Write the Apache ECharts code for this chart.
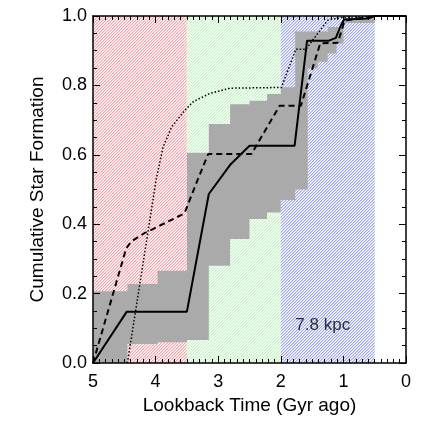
<!DOCTYPE html>
<html>
<head>
<meta charset="utf-8">
<script src="https://cdn.jsdelivr.net/npm/echarts@6/dist/echarts.min.js"></script>
<style>
html,body{margin:0;padding:0;background:#fff;}
#c{width:422px;height:422px;}
</style>
</head>
<body>
<div id="c"></div>
<script>
// ---- data ----
const periodStart = [5, 3.5, 2.0];
const periodEnd = [3.5, 2.0, 0.5];
const periodColor = [[246, 165, 172], [195, 242, 195], [160, 168, 238]];

const bandEdges = [5, 4.45, 3.97, 3.5, 3.15, 2.81, 2.5, 2.22, 2.0, 1.77, 1.57, 1.41, 1.25, 1.11, 1.0, 0.5];
const bandLo = [0, 0.055, 0.06, 0.066, 0.28, 0.357, 0.415, 0.434, 0.47, 0.50, 0.849, 0.868, 0.892, 0.921, 0.98];
const bandHi = [0.207, 0.228, 0.266, 0.606, 0.689, 0.746, 0.756, 0.775, 0.795, 0.955, 0.955, 0.955, 0.968, 0.968, 0.995];

const solidX = [5, 4.46, 3.5, 3.15, 2.8, 2.5, 1.78, 1.58, 1.23, 1.12, 1.05, 0.99, 0.6, 0.5, 0];
const solidY = [0, 0.148, 0.148, 0.487, 0.573, 0.626, 0.626, 0.929, 0.929, 0.937, 0.969, 0.99, 0.993, 1.0, 1.0];

const dashedX = [5, 4.47, 4.39, 4.18, 4.02, 3.54, 3.33, 3.16, 2.47, 2.02, 1.68, 1.37, 1.09, 0.98, 0.5, 0];
const dashedY = [0, 0.33, 0.35, 0.374, 0.388, 0.431, 0.527, 0.602, 0.602, 0.741, 0.741, 0.921, 0.923, 0.987, 1.0, 1.0];

const dottedX = [4.45, 3.99, 3.88, 3.74, 3.54, 3.4, 3.13, 2.81, 1.99, 1.76, 1.6, 1.25, 1.03, 0.5, 0];
const dottedY = [0, 0.53, 0.623, 0.681, 0.727, 0.753, 0.777, 0.792, 0.794, 0.904, 0.904, 0.988, 0.996, 1.0, 1.0];

const labelText = '7.8 kpc';
const labelPos = [1.33, 0.11];

const yTickDigits = 1;

// ---- helpers ----
function hatch(rgb, period) {
  const c = document.createElement('canvas');
  c.width = period; c.height = period;
  const ctx = c.getContext('2d');
  ctx.fillStyle = '#ffffff';
  ctx.fillRect(0, 0, period, period);
  const half = rgb.map(v => Math.round((v + 255) / 2));
  for (let i = 0; i < period; i++) {
    ctx.fillStyle = 'rgb(' + half.join(',') + ')';
    ctx.fillRect((i + 1) % period, period - 1 - i, 1, 1);
    ctx.fillStyle = 'rgb(' + rgb.join(',') + ')';
    ctx.fillRect(i, period - 1 - i, 1, 1);
  }
  return c;
}
const patterns = periodColor.map(c => ({ image: hatch(c, 3), repeat: 'repeat' }));

const zip = (xs, ys) => xs.map((x, i) => [x, ys[i]]);

const FONT = '"Liberation Sans", Arial, Helvetica, sans-serif';

const chart = echarts.init(document.getElementById('c'), null, { renderer: 'canvas', width: 422, height: 422 });

const axisCommonX = {
  type: 'value', min: 0, max: 5, interval: 1, inverse: true, z: 10,
  axisLine: { show: true, onZero: false, lineStyle: { color: '#000', width: 1.5 } },
  axisTick: { show: true, inside: true, length: 7, lineStyle: { color: '#000', width: 1 } },
  minorTick: { show: true, splitNumber: 10, length: 4, lineStyle: { color: '#000', width: 1 } },
  splitLine: { show: false }
};
const axisCommonY = {
  type: 'value', min: 0, max: 1, interval: 0.2, z: 10,
  axisLine: { show: true, onZero: false, lineStyle: { color: '#000', width: 1.5 } },
  axisTick: { show: true, inside: true, length: 7, lineStyle: { color: '#000', width: 1 } },
  minorTick: { show: true, splitNumber: 4, length: 4, lineStyle: { color: '#000', width: 1 } },
  splitLine: { show: false }
};

const option = {
  animation: false,
  backgroundColor: '#fff',
  grid: { left: 93, right: 16, top: 16, bottom: 59, containLabel: false },
  xAxis: [
    Object.assign({}, axisCommonX, {
      position: 'bottom',
      axisLabel: { color: '#000', fontSize: 18, fontFamily: FONT, margin: 10 },
      name: 'Lookback Time (Gyr ago)', nameLocation: 'middle', nameGap: 30,
      nameTextStyle: { color: '#000', fontSize: 19, fontFamily: FONT }
    }),
    Object.assign({}, axisCommonX, { position: 'top', axisLabel: { show: false } })
  ],
  yAxis: [
    Object.assign({}, axisCommonY, {
      position: 'left',
      axisLabel: { color: '#000', fontSize: 18, fontFamily: FONT, margin: 6,
        formatter: v => v.toFixed(yTickDigits) },
      name: 'Cumulative Star Formation', nameLocation: 'middle', nameGap: 46, nameRotate: 90,
      nameTextStyle: { color: '#000', fontSize: 19, fontFamily: FONT }
    }),
    Object.assign({}, axisCommonY, { position: 'right', axisLabel: { show: false } })
  ],
  series: [
    {
      type: 'custom', name: 'periods', z: 1, silent: true,
      data: periodStart.map((s, i) => [s, periodEnd[i], i]),
      encode: { x: [0, 1] },
      renderItem: function (params, api) {
        const a = api.coord([api.value(0), 1]);
        const b = api.coord([api.value(1), 0]);
        return {
          type: 'rect',
          shape: { x: Math.min(a[0], b[0]), y: a[1], width: Math.abs(b[0] - a[0]), height: b[1] - a[1] },
          style: { fill: patterns[api.value(2)] }
        };
      }
    },
    {
      type: 'custom', name: 'band', z: 2, silent: true,
      data: [[bandEdges[0], bandEdges[bandEdges.length - 1]]],
      encode: { x: [0, 1] },
      renderItem: function (params, api) {
        const pts = [];
        for (let i = 0; i < bandHi.length; i++) {
          pts.push(api.coord([bandEdges[i], bandHi[i]]));
          pts.push(api.coord([bandEdges[i + 1], bandHi[i]]));
        }
        for (let i = bandLo.length - 1; i >= 0; i--) {
          pts.push(api.coord([bandEdges[i + 1], bandLo[i]]));
          pts.push(api.coord([bandEdges[i], bandLo[i]]));
        }
        return { type: 'polygon', shape: { points: pts }, style: { fill: '#aaaaaa' } };
      }
    },
    {
      type: 'line', name: 'solid', z: 5, showSymbol: false, silent: true,
      data: zip(solidX, solidY),
      lineStyle: { color: '#000', width: 2, type: 'solid' }
    },
    {
      type: 'line', name: 'dashed', z: 5, showSymbol: false, silent: true,
      data: zip(dashedX, dashedY),
      lineStyle: { color: '#000', width: 2, type: [6, 4] }
    },
    {
      type: 'line', name: 'dotted', z: 5, showSymbol: false, silent: true,
      data: zip(dottedX, dottedY),
      lineStyle: { color: '#000', width: 1.5, type: [1.5, 2] }
    },
    {
      type: 'scatter', name: 'label', z: 6, silent: true, symbolSize: 0,
      data: [labelPos],
      label: { show: true, position: 'inside', formatter: labelText, color: '#000', fontSize: 17, fontFamily: FONT }
    }
  ]
};
chart.setOption(option);
</script>
</body>
</html>
